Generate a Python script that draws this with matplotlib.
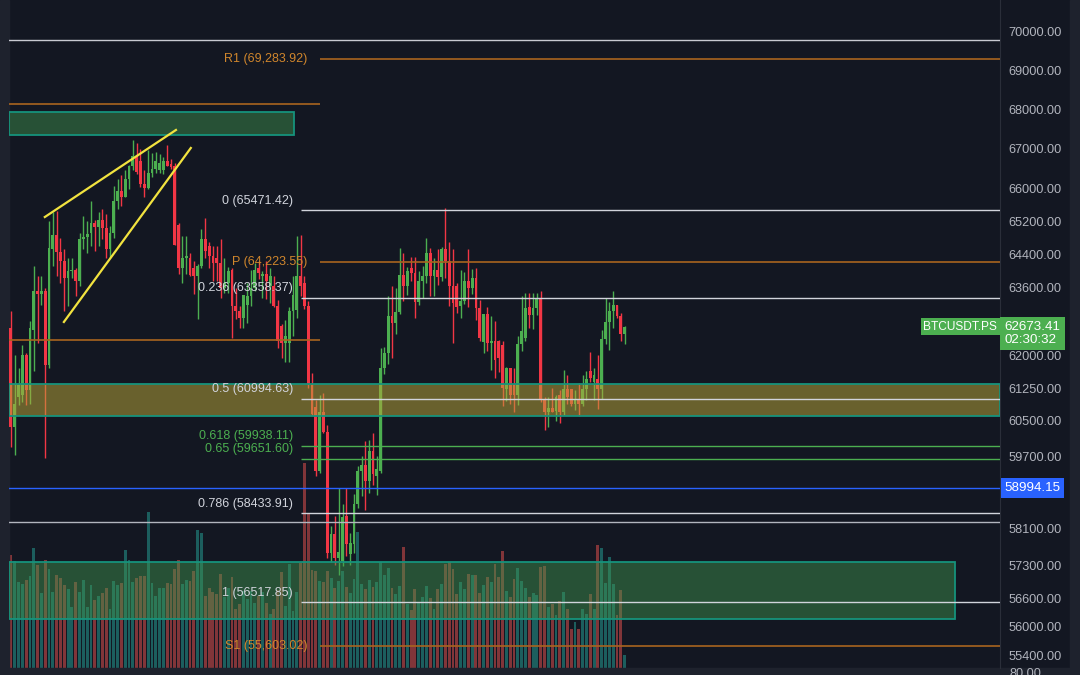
import numpy as np
import matplotlib.pyplot as plt
import matplotlib.transforms as mtransforms
from matplotlib.patches import Rectangle

# --- candles (BTCUSDT.PS, 15m) ---
opens = [62640, 60360, 61040, 61100, 62020, 61200, 62590, 63510, 63460, 63510,
         61790, 64540, 64880, 64450, 64250, 63820, 63990, 64020, 63750, 64780,
         64830, 64920, 65160, 65070, 65230, 65040, 64540, 64920, 65690, 65940,
         65810, 66240, 66560, 66810, 66700, 66120, 66020, 66390, 66500, 66480,
         66480, 66700, 66620, 66560, 65100, 64060, 64300, 64300, 64060, 63870,
         64120, 64780, 64610, 64370, 64300, 64200, 63600, 63720, 64010, 63160,
         63040, 62880, 63180, 63400, 63580, 64060, 63870, 63920, 63630, 63650,
         63160, 62700, 62290, 62290, 63040, 63060, 63880, 63700, 63160, 61330,
         60810, 59370, 60700, 60250, 57570, 57990, 57460, 57400, 58380, 57560,
         57760, 58640, 59370, 59500, 59150, 59830, 59260, 59370, 61720, 62070,
         62930, 62760, 63020, 63910, 63630, 64060, 63940, 63260, 63750, 63870,
         64420, 63870, 64030, 63850, 64540, 64230, 63650, 63650, 63160, 63280,
         63750, 63580, 63820, 63110, 62320, 62980, 62300, 62340, 62340, 62250,
         61220, 61720, 61310, 61100, 62280, 62410, 63130, 62950, 63110, 63350,
         60970, 60700, 60800, 60720, 61080, 60700, 61220, 61220, 60880, 61000,
         60880, 61220, 61650, 61380, 61450, 61220, 62390, 62780, 63040, 63180,
         62930, 62500]
highs = [63040, 62020, 61720, 62250, 62060, 62810, 64110, 63870, 63870, 63580,
         65210, 65430, 65450, 64800, 64540, 64300, 64300, 64060, 64920, 65330,
         65210, 65690, 65230, 65430, 65500, 65380, 65090, 66060, 66240, 66340,
         66480, 66600, 67230, 67150, 67000, 66460, 66980, 66890, 66930, 66880,
         66800, 67100, 66750, 66640, 65170, 64850, 64850, 64420, 64240, 64160,
         65020, 65280, 64700, 64610, 64610, 64780, 64300, 64100, 64060, 63600,
         63160, 63420, 63720, 64010, 64200, 64250, 64000, 64250, 64060, 63870,
         63300, 62730, 62840, 63130, 63870, 64850, 64870, 63870, 63280, 61600,
         60970, 61100, 61130, 60400, 58170, 58380, 59000, 58640, 59000, 58000,
         58860, 59480, 59700, 60050, 60070, 60230, 59700, 62180, 62200, 63400,
         63630, 63580, 64560, 64440, 64100, 64330, 64330, 63990, 64110, 64790,
         64560, 64320, 64520, 64570, 65530, 64700, 64520, 63700, 64010, 63970,
         64520, 64040, 64060, 63300, 62930, 63130, 62930, 62800, 62370, 62340,
         61740, 61720, 61720, 62460, 63400, 63470, 63470, 63470, 63470, 63510,
         61040, 61050, 61240, 61100, 61200, 61670, 61560, 61220, 61200, 61360,
         61560, 61650, 62090, 61720, 62020, 62600, 63350, 63250, 63510, 63180,
         63000, 62700]
lows = [59920, 59740, 60860, 60930, 60860, 60880, 61650, 62300, 63180, 59660,
        61700, 64130, 63870, 63700, 63040, 63160, 63820, 63400, 63630, 64540,
        64420, 64610, 64490, 64610, 64780, 64300, 64300, 64800, 65500, 65580,
        65790, 65990, 66480, 66370, 66050, 65810, 65990, 66290, 66390, 66390,
        66360, 66560, 66500, 64630, 63920, 63700, 63920, 63870, 63460, 62860,
        64060, 64300, 64060, 63770, 63770, 63350, 63470, 63470, 62410, 62860,
        62640, 62640, 62760, 63170, 63510, 63800, 63350, 63330, 63230, 63140,
        62180, 61950, 61840, 61840, 62460, 62880, 63400, 63090, 61260, 60630,
        59260, 59330, 60230, 57460, 57370, 57310, 57100, 57290, 57520, 57310,
        57570, 58560, 58820, 58520, 58890, 59060, 58850, 59330, 61580, 61800,
        61950, 62500, 62980, 63280, 63420, 63750, 62880, 63180, 63350, 63710,
        63390, 63400, 63660, 63750, 63820, 63160, 62300, 63000, 62880, 63200,
        63140, 63450, 62840, 62340, 62070, 62110, 61670, 61490, 61630, 60840,
        60950, 60880, 60700, 60860, 62110, 62350, 62640, 62620, 62950, 60920,
        60300, 60360, 60700, 60500, 60460, 60640, 60880, 60840, 60750, 60600,
        60840, 60970, 61380, 60970, 60770, 60990, 62280, 62140, 62640, 62880,
        62340, 62270]
closes = [60360, 60880, 61330, 62020, 61200, 62640, 63510, 63460, 63510, 61790,
          64560, 64880, 64450, 64250, 63820, 63990, 64020, 63750, 64780, 64830,
          64900, 65160, 65070, 65230, 65040, 64540, 64920, 65690, 65940, 65810,
          66240, 66560, 66810, 66420, 66120, 66020, 66390, 66500, 66700, 66650,
          66700, 66560, 66540, 64630, 64060, 64300, 64350, 63900, 63870, 64120,
          64780, 64490, 64370, 64200, 64180, 63600, 63720, 63990, 63160, 63040,
          62880, 63420, 63400, 63580, 64010, 63940, 63920, 63760, 63870, 63160,
          62340, 62290, 62460, 63040, 63420, 63880, 63650, 63160, 61330, 60650,
          59370, 60700, 60250, 57570, 57990, 57460, 57600, 58360, 57780, 57800,
          58640, 59370, 59500, 59150, 59830, 59310, 59420, 61720, 62070, 62930,
          62770, 63020, 63910, 63630, 63990, 63940, 63260, 63750, 63870, 64420,
          63870, 64030, 63850, 64540, 64230, 63630, 63230, 63150, 63280, 63750,
          63580, 63820, 63110, 62410, 62980, 62300, 62340, 61900, 61950, 61260,
          61720, 61100, 61100, 62280, 62570, 63110, 62950, 63110, 63350, 60970,
          60700, 60800, 60690, 61040, 60700, 61220, 61040, 60880, 60970, 60880,
          61220, 61450, 61470, 61560, 61220, 62390, 62780, 63040, 63180, 62930,
          62500, 62673.41]
volumes = [113, 107, 86, 84, 88, 92, 120, 103, 75, 108, 99, 76, 93, 90, 83, 79,
           61, 86, 76, 88, 61, 83, 68, 72, 75, 80, 59, 87, 83, 85, 118, 108, 86,
           90, 92, 92, 156, 85, 72, 80, 80, 85, 84, 99, 108, 84, 88, 87, 97, 138,
           135, 72, 80, 76, 74, 94, 71, 80, 91, 59, 64, 77, 69, 77, 65, 72, 76,
           65, 54, 59, 78, 96, 62, 104, 57, 76, 105, 205, 154,
           98, 97, 87, 86, 97, 90, 80, 87, 97, 81, 75, 89, 136, 84, 79, 88, 81,
           86, 106, 93, 100, 80, 74, 82, 121, 64, 58, 79, 65, 71, 82, 70, 59,
           79, 84, 104, 106, 99, 74, 86, 79, 94, 93, 93, 75, 83, 91, 86, 104,
           91, 117, 77, 71, 89, 100, 87, 80, 71, 75, 73, 101, 102, 61, 64, 53,
           67, 76, 59, 39, 46, 39, 59, 54, 74, 59, 123, 120, 85, 111, 84, 53,
           78, 13]

# --- drawn levels ---
fib_ratios = ["0", "0.236", "0.5", "0.618", "0.65", "0.786", "1"]
fib_prices = [65471.42, 63358.37, 60994.63, 59938.11, 59651.60, 58433.91, 56517.85]
pivot_names = ["R1", "P", "S1"]
pivot_prices = [69283.92, 64223.55, 55603.02]
last_price = 62673.41
alert_price = 58994.15
price_ticks = [70000, 69000, 68000, 67000, 66000, 65200, 64400, 63600, 62800,
               62000, 61250, 60500, 59700, 58100, 57300, 56600, 56000, 55400]

BG = "#131722"
UP = "#4caf50"
DOWN = "#f23645"
ORANGE_LINE = "#a8641f"
ORANGE_TXT = "#d0862c"
FIB = "#d1d4dc"
TEAL = "#16937c"
FS = 9

plt.rcParams["font.family"] = ["Liberation Sans", "DejaVu Sans"]

fig = plt.figure(figsize=(10.8, 6.75), dpi=100, facecolor=BG)
W, H = 1080, 675
rect = [9 / W, 7 / H, 991 / W, 668 / H]
ax_vol = fig.add_axes(rect, facecolor=BG)
ax = fig.add_axes(rect, sharex=ax_vol)
ax.set_zorder(ax_vol.get_zorder() + 1)
ax.patch.set_visible(False)

# side strips
fig.patches.append(Rectangle((0, 0), 9 / W, 1, transform=fig.transFigure, color="#1e222d", zorder=0))
fig.patches.append(Rectangle((1070 / W, 0), 10 / W, 1, transform=fig.transFigure, color="#1e222d", zorder=0))
fig.patches.append(Rectangle((0, 0), 1, 7 / H, transform=fig.transFigure, color="#1e222d", zorder=0))

n = len(closes)
x = np.arange(n)
o = np.array(opens)
c = np.array(closes)
up = c >= o
cols = np.where(up, UP, DOWN)

# volume
vcols = np.where(up, "#26a69a", "#ef5350")
ax_vol.bar(x, volumes, width=0.75, color=vcols, alpha=0.5, linewidth=0)
ax_vol.set_ylim(0, 668)
ax_vol.set_xlim(-0.5, 259.5)
ax_vol.axis("off")

# candles
ax.vlines(x, lows, highs, colors=cols, linewidth=1.0, zorder=2)
body_lo = np.minimum(o, c)
body_h = np.maximum(np.abs(c - o), 18)
ax.bar(x, body_h, bottom=body_lo, width=0.74, color=cols, linewidth=0, zorder=3)

ax.set_yscale("log")
ax.set_ylim(55144, 70845)
ax.set_xlim(-0.5, 259.5)

# zones
zone_kw = dict(zorder=4, linewidth=1.3, edgecolor=TEAL)
ax.add_patch(Rectangle((-0.5, 67347), 74.8, 67930 - 67347, facecolor=(0.25, 0.6, 0.31, 0.45), **zone_kw))
ax.add_patch(Rectangle((-0.5, 60610), 260, 61342 - 60610, facecolor=(0.73, 0.65, 0.22, 0.52), **zone_kw))
ax.add_patch(Rectangle((-0.5, 56165), 248.3, 57378 - 56165, facecolor=(0.25, 0.6, 0.31, 0.45), **zone_kw))

# plain horizontal lines
ax.axhline(69790, color="#c8cad2", lw=1.0, zorder=5)
ax.axhline(58248, color="#b2b5be", lw=1.0, zorder=5)
ax.axhline(alert_price, color="#2962ff", lw=1.0, zorder=5)
ax.hlines([68135, 62370], -0.5, 81.1, color=ORANGE_LINE, lw=1.2, zorder=5)

# wedge
ax.plot([8.9, 43.3], [65307, 67474], color="#f2e33f", lw=1.6, zorder=6)
ax.plot([13.9, 47.2], [62786, 67020], color="#f2e33f", lw=1.6, zorder=6)

# fibonacci levels
for r, p in zip(fib_ratios, fib_prices):
    col = UP if r in ("0.618", "0.65") else FIB
    ax.hlines(p, 76.1, 259.5, color=col, lw=1.0, zorder=5)
    ax.annotate(f"{r} ({p:.2f})", xy=(74.0, p), xytext=(0, 7), textcoords="offset points",
                ha="right", va="center", color=col, fontsize=FS, zorder=7)

# pivots
for name, p in zip(pivot_names, pivot_prices):
    ax.hlines(p, 81.1, 259.5, color=ORANGE_LINE, lw=1.2, zorder=5)
    ax.text(77.7, p, f"{name} ({p:,.2f})", ha="right", va="center",
            color=ORANGE_TXT, fontsize=FS, zorder=7)

# right axis
ax.yaxis.tick_right()
ax.minorticks_off()
ax.set_yticks(price_ticks)
ax.set_yticklabels([f"{t:.2f}" for t in price_ticks])
ax.tick_params(axis="y", length=0, pad=6, labelsize=9.2, labelcolor="#b2b5be")
ax.tick_params(axis="x", bottom=False, labelbottom=False)
for s in ["top", "left", "bottom"]:
    ax.spines[s].set_visible(False)
ax.spines["right"].set_color("#2a2e39")

tr = mtransforms.blended_transform_factory(ax.transAxes, ax.transData)
ax.text(0.997, last_price, "BTCUSDT.PS", transform=tr, ha="right", va="center",
        color="white", fontsize=8.6, zorder=10, clip_on=False,
        bbox=dict(boxstyle="square,pad=0.22", fc=UP, ec="none"))
ax.annotate(f"{last_price:.2f}\n02:30:32", xy=(1.0045, last_price), xycoords=tr,
            xytext=(0, -5), textcoords="offset points", ha="left", va="center",
            color="white", fontsize=9.6, linespacing=1.1, zorder=10, annotation_clip=False,
            bbox=dict(boxstyle="square,pad=0.32", fc=UP, ec="none"))
ax.text(1.0045, alert_price, f"{alert_price:.2f}", transform=tr, ha="left", va="center",
        color="white", fontsize=9.6, zorder=10, clip_on=False,
        bbox=dict(boxstyle="square,pad=0.28", fc="#2962ff", ec="none"))

fig.text(1009 / W, 1 - 674 / H, "80.00", ha="left", va="center", color="#b2b5be", fontsize=9.2)

fig.savefig("out.png", dpi=100, facecolor=BG)
